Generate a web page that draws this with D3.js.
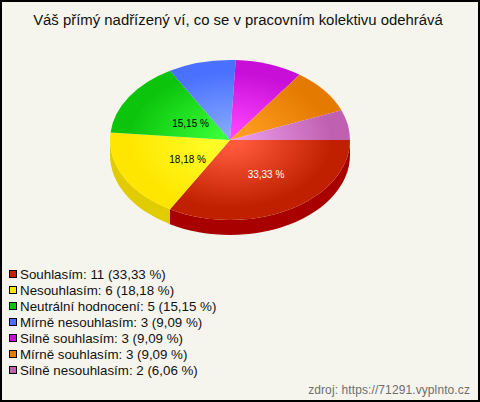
<!DOCTYPE html>
<html><head><meta charset="utf-8">
<script src="https://cdn.jsdelivr.net/npm/d3@7/dist/d3.min.js"></script>
<style>html,body{margin:0;padding:0;background:#f5f5ed}svg{display:block}text{font-family:"Liberation Sans",Arial,sans-serif}</style>
</head><body><svg id="c" width="480" height="402"></svg>
<script>
const titleText = "Váš přímý nadřízený ví, co se v pracovním kolektivu odehrává";
const categories = ["Souhlasím","Nesouhlasím","Neutrální hodnocení","Mírně nesouhlasím","Silně souhlasím","Mírně souhlasím","Silně nesouhlasím"];
const counts = [11,6,5,3,3,3,2];
const percents = ["33,33","18,18","15,15","9,09","9,09","9,09","6,06"];
const baseColors = ["#c02000","#ffe600","#0cc40c","#4a70ff","#c80fd8","#e57a00","#c060b0"];
const lightColors = ["#ff5a3c","#ffff2a","#38ff38","#86a8ff","#ff44ff","#ffa024","#ea9cea"];
const sideColors = ["#a80000","#e0cc00","#0aa00a","#3a58cc","#a00cac","#b86000","#9a4c8c"];
const sliceLabels = ["33,33 %","18,18 %","15,15 %","","","",""];
const labelColors = ["#fff","#000","#000"];

const svg = d3.select("#c");
const W=480,H=402,cx=230,cy=140,rx=120,ry=80,depth=15;
svg.append("rect").attr("x",1).attr("y",1).attr("width",W-2).attr("height",H-2).attr("fill","#f5f5ed").attr("stroke","#000").attr("stroke-width",2);
svg.append("text").attr("x",238).attr("y",25).attr("text-anchor","middle").attr("font-size",14.9).attr("fill","#111").text(titleText);

const defs = svg.append("defs");
categories.forEach((c,i)=>{
  const g=defs.append("radialGradient").attr("id","g"+i).attr("gradientUnits","userSpaceOnUse")
    .attr("cx",0).attr("cy",0).attr("r",rx);
  g.append("stop").attr("offset",.08).attr("stop-color",lightColors[i]);
  g.append("stop").attr("offset",.85).attr("stop-color",baseColors[i]);
});
const pie=d3.pie().sort(null).startAngle(Math.PI/2).endAngle(Math.PI*2.5);
const arcs=pie(counts);
const arc=d3.arc().innerRadius(0).outerRadius(rx);
const pt=(a,dy=0)=>[cx+rx*Math.sin(a),cy-ry*Math.cos(a)+dy];
const side=svg.append("g");
arcs.forEach((d,i)=>{
  const a0=Math.max(d.startAngle,Math.PI/2),a1=Math.min(d.endAngle,Math.PI*1.5);
  if(a1<=a0)return;
  const A=(a,dy,cw)=>{const q=pt(a,dy);return `A${rx},${ry} 0 0 ${cw} ${q[0]},${q[1]}`};
  const s=pt(a0),e=pt(a1,depth);
  side.append("path").attr("fill",sideColors[i])
    .attr("d",`M${s} ${A(a1,0,1)} L${e} ${A(a0,depth,0)} Z`);
});
svg.append("g").attr("transform",`translate(${cx},${cy}) scale(1,${ry/rx})`)
  .selectAll("path").data(arcs).join("path")
  .attr("d",arc).attr("fill",(d,i)=>`url(#g${i})`);
const labelNudge=[[6,-1],[11,1],[11,5]];
sliceLabels.forEach((t,i)=>{ if(!t)return;
  const mid=(arcs[i].startAngle+arcs[i].endAngle)/2;
  const q=pt(mid);
  const x=cx+(q[0]-cx)*.5+labelNudge[i][0], yy=cy+(q[1]-cy)*.5+labelNudge[i][1];
  svg.append("text").attr("x",x).attr("y",yy+4).attr("text-anchor","middle").attr("font-size",10).attr("fill",labelColors[i]).text(t);
});
const y=d3.scalePoint().domain(categories).range([274,370]);
const leg=svg.append("g").selectAll("g").data(categories).join("g").attr("transform",d=>`translate(0,${y(d)})`);
leg.append("rect").attr("x",9.5).attr("y",-3.5).attr("width",7).attr("height",7).attr("fill",(d,i)=>baseColors[i]).attr("stroke","#000");
leg.append("text").attr("x",20).attr("y",5).attr("font-size",13.33).attr("fill","#111")
  .text((d,i)=>`${d}: ${counts[i]} (${percents[i]} %)`);
svg.append("text").attr("x",470).attr("y",394).attr("text-anchor","end").attr("font-size",12).attr("letter-spacing",.1).attr("fill","#6e6e6e").text("zdroj: https://71291.vyplnto.cz");
</script></body></html>
